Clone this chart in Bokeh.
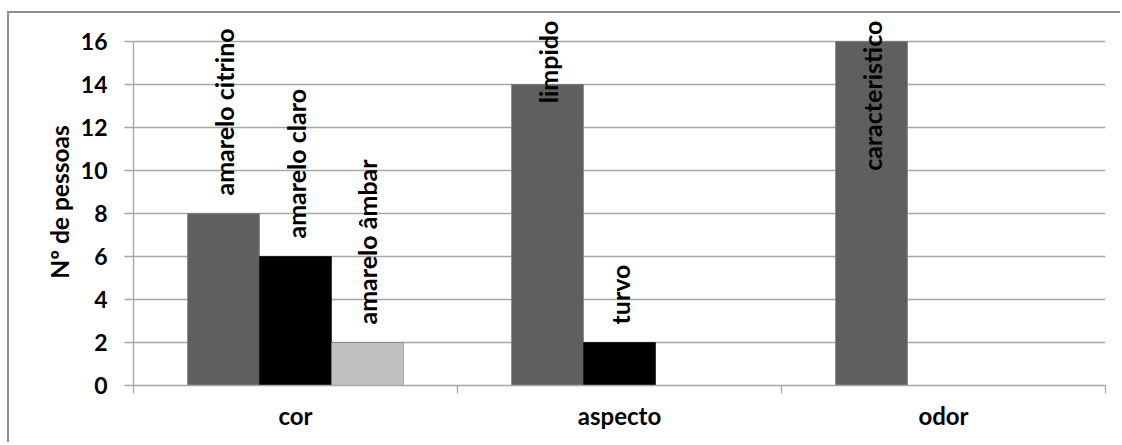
import math
from bokeh.plotting import figure
from bokeh.models import Range1d, FixedTicker
from bokeh.core.properties import value
from bokeh.embed import file_html
from bokeh.resources import INLINE

categories = ["cor", "aspecto", "odor"]
series_values = [
    [8, 14, 16],
    [6, 2, None],
    [2, None, None],
]
series_labels = [
    ["amarelo citrino", "limpido", "caracteristico"],
    ["amarelo claro", "turvo", None],
    ["amarelo âmbar", None, None],
]
series_colors = ["#5f5f5f", "#000000", "#c0c0c0"]
y_ticks = [0, 2, 4, 6, 8, 10, 12, 14, 16]
y_title = "Nº de pessoas"

FONT = "Lato"
GRID = "#a6a6a6"
Y_TOP = 17.07
BAR_W = 0.2222
FRAME_H = 367
PX_PER_UNIT = FRAME_H / Y_TOP

p = figure(frame_width=972, frame_height=FRAME_H, x_range=Range1d(0, len(categories)),
           y_range=Range1d(0, Y_TOP), output_backend="svg", toolbar_location=None,
           min_border_left=124, min_border_right=15, min_border_top=5, min_border_bottom=57,
           styles={"margin-left": "7px", "margin-top": "11px",
                   "border-left": "2px solid #8f8f8f", "border-top": "2px solid #8f8f8f"})
p.outline_line_color = None
p.background_fill_color = "white"

p.xgrid.visible = False
p.ygrid.ticker = FixedTicker(ticks=y_ticks)
p.ygrid.grid_line_color = GRID
p.ygrid.grid_line_width = 1.3

# y axis
ya = p.yaxis[0]
ya.ticker = FixedTicker(ticks=y_ticks)
ya.bounds = (y_ticks[0], y_ticks[-1])
ya.axis_line_color = GRID
ya.axis_line_width = 1.3
ya.major_tick_line_color = GRID
ya.major_tick_line_width = 1.3
ya.major_tick_out = 9
ya.major_tick_in = 0
ya.minor_tick_line_color = None
ya.major_label_standoff = 17
ya.major_label_text_font = FONT
ya.major_label_text_font_style = "bold"
ya.major_label_text_font_size = "23px"
ya.major_label_text_color = "black"
ya.axis_label = y_title
ya.axis_label_text_font = FONT
ya.axis_label_text_font_style = "bold"
ya.axis_label_text_font_size = "24.5px"
ya.axis_label_text_color = "black"
ya.axis_label_standoff = 4

# x axis
xa = p.xaxis[0]
centers = [i + 0.5 for i in range(len(categories))]
xa.ticker = FixedTicker(ticks=centers, minor_ticks=list(range(len(categories) + 1)))
xa.major_label_overrides = {c: n for c, n in zip(centers, categories)}
xa.major_tick_line_color = None
xa.major_tick_out = 0
xa.major_tick_in = 0
xa.minor_tick_line_color = GRID
xa.minor_tick_line_width = 1.3
xa.minor_tick_out = 8
xa.minor_tick_in = 0
xa.axis_line_color = GRID
xa.axis_line_width = 1.3
xa.major_label_standoff = 7
xa.major_label_text_font = FONT
xa.major_label_text_font_style = "bold"
xa.major_label_text_font_size = "24px"
xa.major_label_text_color = "black"

n_series = len(series_values)
LABEL_FS = "25px"
GAP = 18 / PX_PER_UNIT          # label gap above bar in data units
CHAR = 11.2 / PX_PER_UNIT       # approx label length per char in data units

for j, (vals, labs, col) in enumerate(zip(series_values, series_labels, series_colors)):
    off = (j - (n_series - 1) / 2) * BAR_W
    xs, tops = [], []
    for i, v in enumerate(vals):
        if v is None:
            continue
        xs.append(i + 0.5 + off)
        tops.append(v)
    p.vbar(x=xs, top=tops, bottom=0, width=BAR_W, fill_color=col,
           line_color="#7a7a7a" if col != "#000000" else "#000000", line_width=0.6)

    lx_b, ly_b, lt_b = [], [], []
    lx_t, ly_t, lt_t = [], [], []
    for i, (v, lab) in enumerate(zip(vals, labs)):
        if v is None or lab is None:
            continue
        base = v + GAP
        if base + len(lab) * CHAR > Y_TOP - 0.05:
            lx_t.append(i + 0.5 + off); ly_t.append(Y_TOP - 0.1); lt_t.append(lab)
        else:
            lx_b.append(i + 0.5 + off); ly_b.append(base); lt_b.append(lab)
    for lx, ly, lt, align in ((lx_b, ly_b, lt_b, "left"), (lx_t, ly_t, lt_t, "right")):
        if lx:
            p.text(x=lx, y=ly, text=lt, angle=math.pi / 2, text_align=align,
                   text_baseline="middle", text_font=value(FONT), text_font_style="bold",
                   text_font_size=LABEL_FS, text_color="black")

open("out.html", "w").write(file_html(p, INLINE))
